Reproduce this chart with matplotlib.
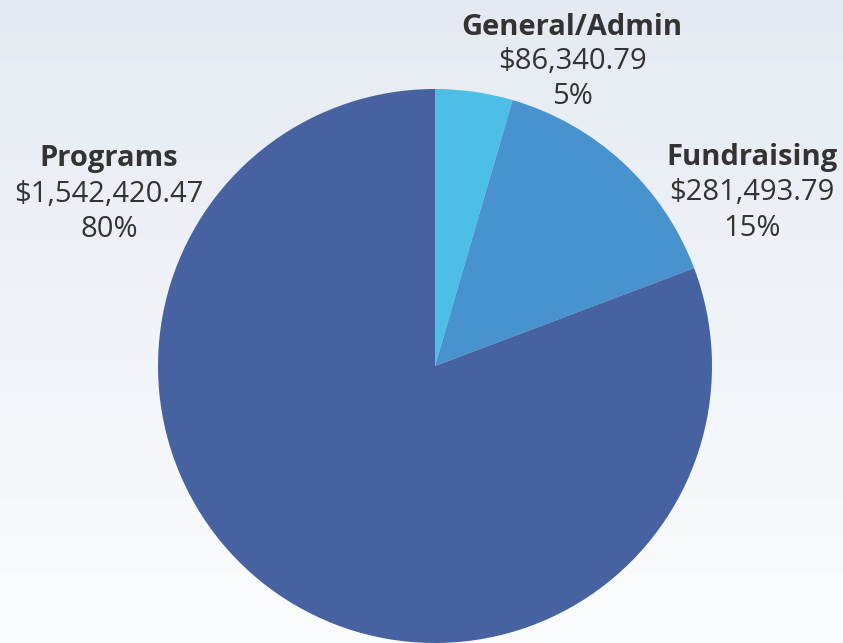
import numpy as np
import matplotlib
matplotlib.use("Agg")
import matplotlib.pyplot as plt

categories = ["General/Admin", "Fundraising", "Programs"]
values = [86340.79, 281493.79, 1542420.47]
value_labels = ["$86,340.79", "$281,493.79", "$1,542,420.47"]
pct_labels = ["5%", "15%", "80%"]
colors = ["#4DBFE7", "#4892CD", "#4662A0"]

W, H = 843, 643
fig = plt.figure(figsize=(W / 100, H / 100), dpi=100)
ax = fig.add_axes([0, 0, 1, 1])
ax.set_xlim(0, W)
ax.set_ylim(0, H)
ax.set_aspect("equal")
ax.axis("off")

# background gradient (top bluish-gray to near white at bottom)
top = np.array([0.898, 0.918, 0.949])
bot = np.array([0.984, 0.988, 0.996])
t = np.linspace(0, 1, 256)[:, None]
grad = top * (1 - t) + bot * t
img = np.repeat(grad[:, None, :], 2, axis=1)
ax.imshow(img, extent=[0, W, 0, H], aspect="auto", origin="upper", zorder=0)

cx, cy, r = 435, H - 366, 277
ax.pie(values, colors=colors, startangle=90, counterclock=False,
       center=(cx, cy), radius=r, frame=True,
       wedgeprops=dict(linewidth=0, zorder=2))
ax.set_xlim(0, W)
ax.set_ylim(0, H)
ax.axis("off")

fs = 21
tc = "#333333"
label_pos = {
    "General/Admin": (572, [35, 69, 104]),
    "Fundraising": (752, [165, 200, 236]),
    "Programs": (109, [166, 202, 237]),
}
for cat, val, pct in zip(categories, value_labels, pct_labels):
    x, ys = label_pos[cat]
    ax.text(x, H - ys[0], cat, ha="center", va="baseline", fontsize=fs,
            fontweight="bold", color=tc, family="Open Sans", zorder=5)
    ax.text(x, H - ys[1], val, ha="center", va="baseline", fontsize=fs,
            color=tc, family="Open Sans", zorder=5)
    ax.text(x, H - ys[2], pct, ha="center", va="baseline", fontsize=fs,
            color=tc, family="Open Sans", zorder=5)

fig.savefig("out.png", dpi=100)
